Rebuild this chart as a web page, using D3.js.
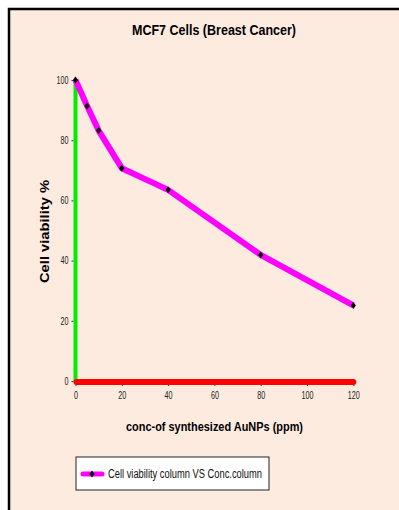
<!DOCTYPE html>
<html>
<head>
<meta charset="utf-8">
<script src="https://cdn.jsdelivr.net/npm/d3@7"></script>
<style>
  body { margin: 0; background: #fff; }
  text { font-family: "Liberation Sans", Arial, sans-serif; }
  .tick text { font-size: 10px; fill: #222; }
  .axis path { display: none; }
  .axis line { stroke: #333; }
</style>
</head>
<body>
<div id="chart"></div>
<script>
// data
let conc = [0, 5, 10, 20, 40, 80, 120];
let viability = [100, 91.4, 83.2, 70.7, 63.5, 41.9, 25.1];
let xTicks = [0, 20, 40, 60, 80, 100, 120];
let yTicks = [0, 20, 40, 60, 80, 100];

let width = 399;
let height = 510;

let svg = d3.select("div#chart")
    .append("svg")
    .attr("width", width)
    .attr("height", height);

// frame
svg.append("rect")
    .attr("x", 10).attr("y", 10)
    .attr("width", width - 10).attr("height", height - 10)
    .attr("fill", "#fdebe0");
svg.append("path")
    .attr("d", "M9,510 V9 H399")
    .attr("fill", "none")
    .attr("stroke", "#000")
    .attr("stroke-width", 2.5);

let xScale = d3.scaleLinear().domain([0, 120]).range([75.5, 353.3]);
let yScale = d3.scaleLinear().domain([0, 100]).range([381, 80]);

// title
svg.append("text")
    .attr("x", 132).attr("y", 35)
    .attr("textLength", 164)
    .attr("lengthAdjust", "spacingAndGlyphs")
    .style("font-weight", "bold")
    .style("font-size", "15.5px")
    .text("MCF7 Cells (Breast Cancer)");

// axes
svg.append("g")
    .attr("class", "axis")
    .attr("transform", "translate(0," + (yScale(0) + 2) + ")")
    .call(d3.axisBottom(xScale).tickValues(xTicks).tickSize(3).tickPadding(6));

svg.append("g")
    .attr("class", "axis")
    .attr("transform", "translate(" + (xScale(0) - 2) + ",0)")
    .call(d3.axisLeft(yScale).tickValues(yTicks).tickSize(2).tickPadding(3));

// narrow the tick labels a bit
svg.selectAll(".tick text")
    .attr("transform", function() {
        let x = +d3.select(this).attr("x") || 0;
        return "translate(" + x + ",0) scale(0.72,1) translate(" + (-x) + ",0)";
    });

// green y-axis bar and red x-axis bar
svg.append("line")
    .attr("x1", xScale(0)).attr("x2", xScale(0))
    .attr("y1", yScale(0)).attr("y2", yScale(100))
    .attr("stroke", "#00ee00").attr("stroke-width", 4);
svg.append("line")
    .attr("x1", xScale(0) + 1).attr("x2", xScale(120))
    .attr("y1", yScale(0) + 1).attr("y2", yScale(0) + 1)
    .attr("stroke", "#ff0000").attr("stroke-width", 6)
    .attr("stroke-linecap", "round");

// data line
let line = d3.line()
    .x((d, i) => xScale(conc[i]))
    .y(d => yScale(d));

svg.append("path")
    .datum(viability)
    .attr("fill", "none")
    .attr("stroke", "#ff00ff")
    .attr("stroke-width", 6)
    .attr("stroke-linejoin", "round")
    .attr("d", line);

// diamond markers
let diamond = "M0,-3.5 L2.6,0 L0,3.5 L-2.6,0 Z";
svg.selectAll(".marker")
    .data(viability)
    .enter().append("path")
    .attr("class", "marker")
    .attr("transform", (d, i) => "translate(" + xScale(conc[i]) + "," + yScale(d) + ")")
    .attr("d", diamond)
    .attr("fill", "#000");

// axis labels
svg.append("text")
    .attr("x", 126).attr("y", 431)
    .attr("textLength", 177)
    .attr("lengthAdjust", "spacingAndGlyphs")
    .style("font-weight", "bold")
    .style("font-size", "13px")
    .text("conc-of synthesized AuNPs  (ppm)");

svg.append("text")
    .attr("transform", "translate(49,283) rotate(270)")
    .attr("textLength", 103)
    .attr("lengthAdjust", "spacingAndGlyphs")
    .style("font-weight", "bold")
    .style("font-size", "12px")
    .text("Cell viability %");

// legend
let legend = svg.append("g");
legend.append("rect")
    .attr("x", 76).attr("y", 457)
    .attr("width", 193).attr("height", 33)
    .attr("fill", "#fff")
    .attr("stroke", "#222")
    .attr("stroke-width", 1);
legend.append("line")
    .attr("x1", 83).attr("x2", 102)
    .attr("y1", 474).attr("y2", 474)
    .attr("stroke", "#ff00ff").attr("stroke-width", 5)
    .attr("stroke-linecap", "round");
legend.append("path")
    .attr("transform", "translate(92,474)")
    .attr("d", diamond)
    .attr("fill", "#000");
legend.append("text")
    .attr("x", 108).attr("y", 478)
    .attr("textLength", 154)
    .attr("lengthAdjust", "spacingAndGlyphs")
    .style("font-size", "12px")
    .style("fill", "#111")
    .text("Cell viability column VS Conc.column");
</script>
</body>
</html>
